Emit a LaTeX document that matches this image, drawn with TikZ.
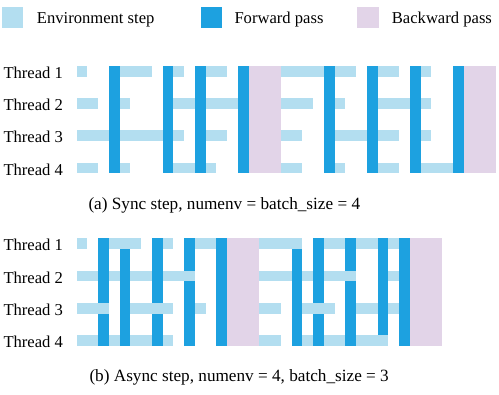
\documentclass[tikz,border=0pt]{standalone}
\usepackage{fontspec}
\setmainfont{Liberation Serif}

\definecolor{envcol}{RGB}{179,222,240}
\definecolor{fwdcol}{RGB}{29,161,224}
\definecolor{bwdcol}{RGB}{226,212,232}

\tikzset{
  envstep/.style={fill=envcol},
  fwdbar/.style={fill=fwdcol},
  bwdbar/.style={fill=bwdcol},
  keybox/.style={minimum size=21.5pt, inner sep=0pt},
  lbl/.style={anchor=base west, inner sep=0pt, font=\fontsize{16.6}{19}\selectfont},
  captxt/.style={lbl, font=\fontsize{17.2}{20}\selectfont},
}

\begin{document}
\begin{tikzpicture}[x=1pt, y=-1pt]
  \useasboundingbox (0,0) rectangle (499,395);

  % legend
  \node[keybox, fill=envcol] (kenv) at (12.5,17.5) {};
  \node[lbl] (tenv) at (36.7,24) {Environment step};
  \node[keybox, fill=fwdcol] (kfwd) at (211.5,17.5) {};
  \node[lbl] (tfwd) at (234.3,24) {Forward pass};
  \node[keybox, fill=bwdcol] (kbwd) at (367.8,17.5) {};
  \node[lbl] (tbwd) at (391.7,24) {Backward pass};

  % thread labels
  \foreach \i in {1,...,4} {
    \node[lbl] (ta\i) at (3.3,{78.5+32.25*(\i-1)}) {Thread \i};
    \node[lbl] (tb\i) at (3.3,{251+32.25*(\i-1)}) {Thread \i};
  }

  % (a) sync step
  \begin{scope}[shift={(76.7pt,-66pt)}, x=10.75pt, y=-10.75pt]
    \foreach \r/\a/\b in {1/0/1, 1/4/7, 1/9/10, 1/12/14, 1/19/23, 1/24/26, 1/28/30, 1/32/33,
                          2/0/2, 2/4/5, 2/9/15, 2/19/22, 2/24/25, 2/28/33,
                          3/0/10, 3/12/14, 3/19/21, 3/24/30, 3/32/33,
                          4/0/2, 4/4/5, 4/9/13, 4/19/21, 4/24/25, 4/28/30, 4/32/35}
      \fill[envstep] (\a,{3*(\r-1)}) rectangle (\b,{3*(\r-1)+1});
    \foreach \c in {3,8,11,15,23,27,31,35}
      \fill[fwdbar] (\c,0) rectangle (\c+1,10);
    \foreach \c in {16,36}
      \fill[bwdbar] (\c,0) rectangle (\c+3,10);
  \end{scope}
  \node[captxt] (capa) at (88.3,210) {(a) Sync step, numenv = batch\_size = 4};

  % (b) async step
  \begin{scope}[shift={(76.7pt,-238.5pt)}, x=10.75pt, y=-10.75pt]
    \foreach \r/\a/\b in {1/0/1, 1/8/9, 1/11/13, 1/23/25, 1/26/28, 1/29/30,
                          2/0/10, 2/17/25, 2/29/30,
                          3/11/12, 3/17/19, 3/26/30,
                          4/0/9, 4/17/19, 4/21/29}
      \fill[envstep] (\a,{3*(\r-1)}) rectangle (\b,{3*(\r-1)+1});
    \foreach \c/\h in {2/10,4/10,7/10,10/10,13/10,20/10,22/10,25/10,28/9,30/10}
      \fill[fwdbar] (\c,0) rectangle (\c+1,\h);
    \foreach \c in {14,31}
      \fill[bwdbar] (\c,0) rectangle (\c+3,10);
    % threads stepping while the others run forward
    \foreach \r/\a/\b in {1/3/6, 1/17/21, 2/10/11, 2/25/26, 3/0/3, 3/5/9, 3/21/24}
      \fill[envstep] (\a,{3*(\r-1)}) rectangle (\b,{3*(\r-1)+1});
  \end{scope}
  \node[captxt] (capb) at (89.3,381.7) {(b) Async step, numenv = 4, batch\_size = 3};
\end{tikzpicture}
\end{document}
